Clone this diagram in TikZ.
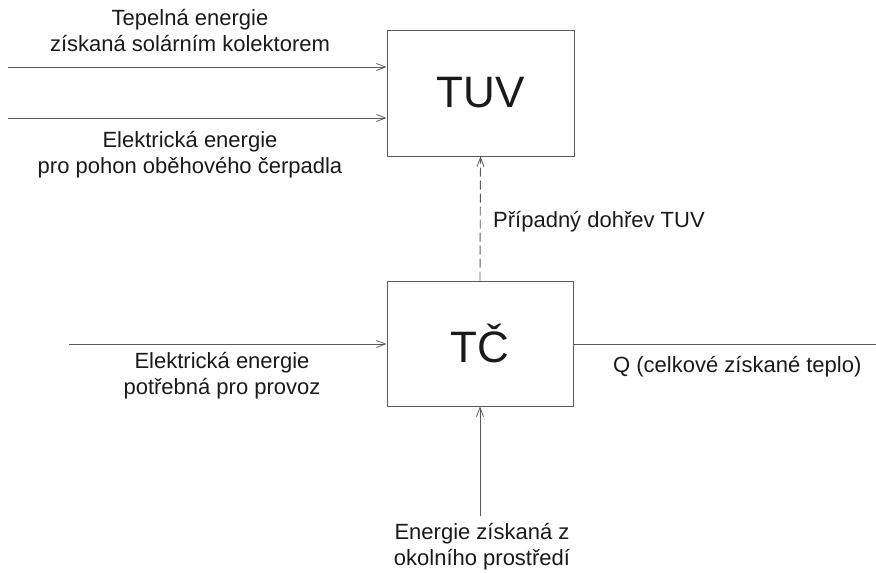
\documentclass[tikz,border=0pt]{standalone}
\usepackage{fontspec}
\setmainfont{Liberation Sans}
\usetikzlibrary{arrows.meta}
\definecolor{linegray}{HTML}{5A5A5A}
\definecolor{txt}{HTML}{1A1A1A}
\tikzset{
  blockbox/.style={draw=linegray, line width=1pt, inner sep=0pt, text=txt, font=\fontsize{44}{50}\selectfont},
  flow/.style={draw=linegray, line width=0.9pt},
  flowarrow/.style={flow, -{Straight Barb[length=9pt,width=7pt,line width=0.8pt]}},
  lbl/.style={text=txt, align=center, inner sep=0pt, font=\fontsize{22}{26}\selectfont},
  lblleft/.style={lbl, anchor=west}
}
\begin{document}
\begin{tikzpicture}[x=1pt,y=-1pt]
\useasboundingbox (0,0) rectangle (876,573);
\node[blockbox, minimum width=187pt, minimum height=126pt] (tuv) at (480.5,93) {TUV};
\node[blockbox, minimum width=186pt, minimum height=125pt] (tc) at (480,343.5) {TČ};

\coordinate (in1) at (8,67);
\coordinate (in2) at (8,118);
\coordinate (in3) at (69,344);
\coordinate (out) at (876,344);
\coordinate (bot) at (480,516);

\draw[flowarrow] (in1) -- (tuv.west |- in1);
\draw[flowarrow] (in2) -- (tuv.west |- in2);
\draw[flowarrow] (in3) -- (tc.west |- in3);
\draw[flow] (tc.east |- out) -- (out);
\draw[flowarrow] (bot) -- (tc.south);
\draw[flowarrow, dash pattern=on 9pt off 4pt] (tc.north) -- (tuv.south);

\node[lbl] (l1) at (190,31) {Tepelná energie\\získaná solárním kolektorem};
\node[lbl] (l2) at (190,155) {Elektrická energie\\pro pohon oběhového čerpadla};
\node[lblleft] (l3) at (493,222) {Případný dohřev TUV};
\node[lbl] (l4) at (222,376) {Elektrická energie\\potřebná pro provoz};
\node[lblleft] (l5) at (613,367) {Q (celkové získané teplo)};
\node[lbl] (l6) at (482,547) {Energie získaná z\\okolního prostředí};
\end{tikzpicture}
\end{document}
